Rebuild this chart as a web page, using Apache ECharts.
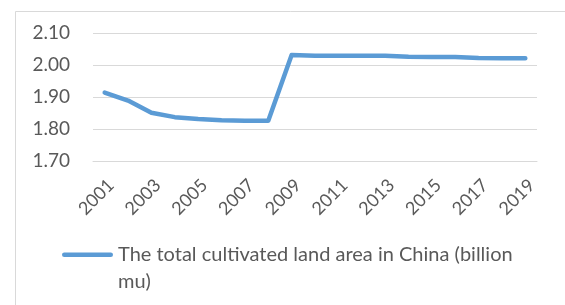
<!DOCTYPE html>
<html>
<head>
<meta charset="utf-8">
<script src="https://cdn.jsdelivr.net/npm/echarts@6/dist/echarts.min.js"></script>
<style>html,body{margin:0;padding:0;background:#fff;}#c{width:565px;height:305px;}</style>
</head>
<body>
<div id="c"></div>
<script>
var years = ['2001','2002','2003','2004','2005','2006','2007','2008','2009','2010','2011','2012','2013','2014','2015','2016','2017','2018','2019'];
var landArea = [1.914, 1.889, 1.851, 1.837, 1.831, 1.827, 1.826, 1.826, 2.031, 2.029, 2.029, 2.029, 2.029, 2.026, 2.025, 2.025, 2.022, 2.021, 2.021];
var seriesName = 'The total cultivated land area in China (billion mu)';
var yTicks = {min: 1.7, max: 2.1, interval: 0.1};

var chart = echarts.init(document.getElementById('c'), null, {renderer: 'canvas'});
chart.setOption({
  animation: false,
  backgroundColor: '#ffffff',
  graphic: [{
    type: 'rect',
    left: 13, top: 9,
    shape: {width: 600, height: 400},
    style: {fill: 'none', stroke: '#d9d9d9', lineWidth: 1},
    silent: true
  }],
  grid: {left: 93, right: 28, top: 33, bottom: 144, containLabel: false},
  xAxis: {
    type: 'category',
    data: years,
    boundaryGap: true,
    axisLine: {show: true, lineStyle: {color: '#d9d9d9', width: 1}},
    axisTick: {show: false},
    axisLabel: {
      interval: 1,
      rotate: 45,
      margin: 15,
      verticalAlign: 'top',
      color: '#595959',
      fontSize: 18,
      fontFamily: 'Lato'
    }
  },
  yAxis: {
    type: 'value',
    min: yTicks.min, max: yTicks.max, interval: yTicks.interval,
    axisLine: {show: false},
    axisTick: {show: false},
    splitLine: {lineStyle: {color: '#d9d9d9', width: 1}},
    axisLabel: {
      margin: 23,
      color: '#595959',
      fontSize: 19,
      fontFamily: 'Lato',
      formatter: function (v) { return v.toFixed(2); }
    }
  },
  legend: {
    left: 57, top: 236,
    itemWidth: 51, itemHeight: 31,
    itemGap: 4,
    symbolKeepAspect: true,
    data: [{name: seriesName, icon: 'path://M2.25,0L48.75,0A2.25,2.25 0 0 1 48.75,4.5L2.25,4.5A2.25,2.25 0 0 1 2.25,0Z M0,31 M51,31'}],
    textStyle: {
      color: '#595959', fontSize: 20, fontFamily: 'Lato',
      width: 410, overflow: 'break', lineHeight: 27
    }
  },
  series: [{
    name: seriesName,
    type: 'line',
    data: landArea,
    symbol: 'none',
    smooth: false,
    lineStyle: {color: '#5b9bd5', width: 4.5, cap: 'round', join: 'round'},
    itemStyle: {color: '#5b9bd5'}
  }]
});
</script>
</body>
</html>
